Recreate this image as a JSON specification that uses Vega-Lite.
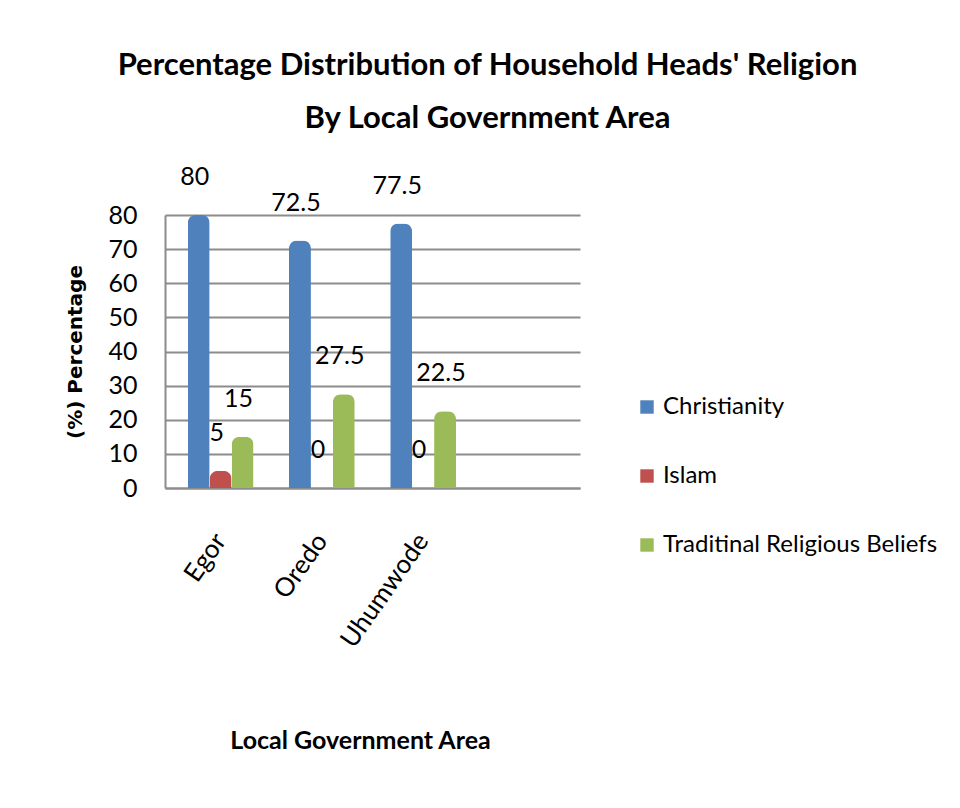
{
  "$schema": "https://vega.github.io/schema/vega-lite/v6.json",
  "autosize": "none",
  "width": 415,
  "height": 273,
  "padding": {"left": 165, "top": 215, "right": 380, "bottom": 320},
  "background": "white",
  "title": {
    "text": ["Percentage Distribution of Household Heads' Religion", "By Local Government Area"],
    "font": "Lato",
    "fontSize": 31,
    "fontWeight": "bold",
    "color": "#000000",
    "anchor": "middle",
    "dx": 115,
    "lineHeight": 53,
    "offset": 30
  },
  "data": {
    "values": [
      {"lga": "Egor", "religion": "Christianity", "pct": 80},
      {"lga": "Egor", "religion": "Islam", "pct": 5},
      {"lga": "Egor", "religion": "Traditinal Religious Beliefs", "pct": 15},
      {"lga": "Oredo", "religion": "Christianity", "pct": 72.5},
      {"lga": "Oredo", "religion": "Islam", "pct": 0},
      {"lga": "Oredo", "religion": "Traditinal Religious Beliefs", "pct": 27.5},
      {"lga": "Uhumwode", "religion": "Christianity", "pct": 77.5},
      {"lga": "Uhumwode", "religion": "Islam", "pct": 0},
      {"lga": "Uhumwode", "religion": "Traditinal Religious Beliefs", "pct": 22.5}
    ]
  },
  "encoding": {
    "x": {
      "field": "lga",
      "type": "nominal",
      "sort": null,
      "scale": {"domain": ["Egor", "Oredo", "Uhumwode", " "], "paddingInner": 0.35, "paddingOuter": 0.225},
      "axis": {
        "title": "Local  Government Area",
        "titleFont": "Lato",
        "titleFontSize": 25,
        "titleFontWeight": "bold",
        "titleColor": "#000000",
        "titleX": 195,
        "titleY": 252,
        "titleBaseline": "middle",
        "labelAngle": -55,
        "labelAlign": "right",
        "labelBaseline": "middle",
        "labelPadding": 48,
        "labelFont": "Lato",
        "labelFontSize": 26,
        "labelColor": "#000000",
        "ticks": false,
        "domain": true,
        "domainColor": "#8c8c8c",
        "domainWidth": 2
      }
    },
    "xOffset": {"field": "religion", "type": "nominal", "sort": null, "scale": {"paddingInner": 0, "paddingOuter": 0}},
    "y": {
      "field": "pct",
      "type": "quantitative",
      "scale": {"domain": [0, 80], "nice": false},
      "axis": {
        "values": [0, 10, 20, 30, 40, 50, 60, 70, 80],
        "title": "(%) Percentage",
        "titleFont": "DejaVu Sans",
        "titleFontSize": 20,
        "titleFontWeight": "bold",
        "titleColor": "#000000",
        "titlePadding": 22,
        "labelFont": "Lato",
        "labelFontSize": 25,
        "labelColor": "#000000",
        "labelPadding": 28,
        "ticks": false,
        "domain": true,
        "domainColor": "#8c8c8c",
        "domainWidth": 2,
        "grid": true,
        "gridColor": "#8c8c8c",
        "gridWidth": 2
      }
    }
  },
  "layer": [
    {
      "mark": {"type": "bar", "cornerRadiusTopLeft": 8, "cornerRadiusTopRight": 8},
      "encoding": {
        "color": {
          "field": "religion",
          "type": "nominal",
          "sort": null,
          "scale": {"domain": ["Christianity", "Islam", "Traditinal Religious Beliefs"], "range": ["#4F81BD", "#C0504D", "#9BBB59"]},
          "legend": {
            "title": null,
            "orient": "none",
            "legendX": 470,
            "legendY": 180,
            "symbolType": "square",
            "symbolSize": 180,
            "symbolStrokeWidth": 0,
            "labelFont": "Lato",
            "labelFontSize": 24,
            "labelColor": "#000000",
            "labelLimit": 400,
            "rowPadding": 45,
            "labelOffset": 4
          }
        }
      }
    },
    {
      "mark": {"type": "text", "baseline": "middle", "dy": -38, "dx": -4, "font": "Lato", "fontSize": 25, "color": "#000000"},
      "encoding": {
        "text": {"field": "pct", "type": "quantitative"}
      }
    }
  ],
  "config": {"view": {"stroke": null}}
}
